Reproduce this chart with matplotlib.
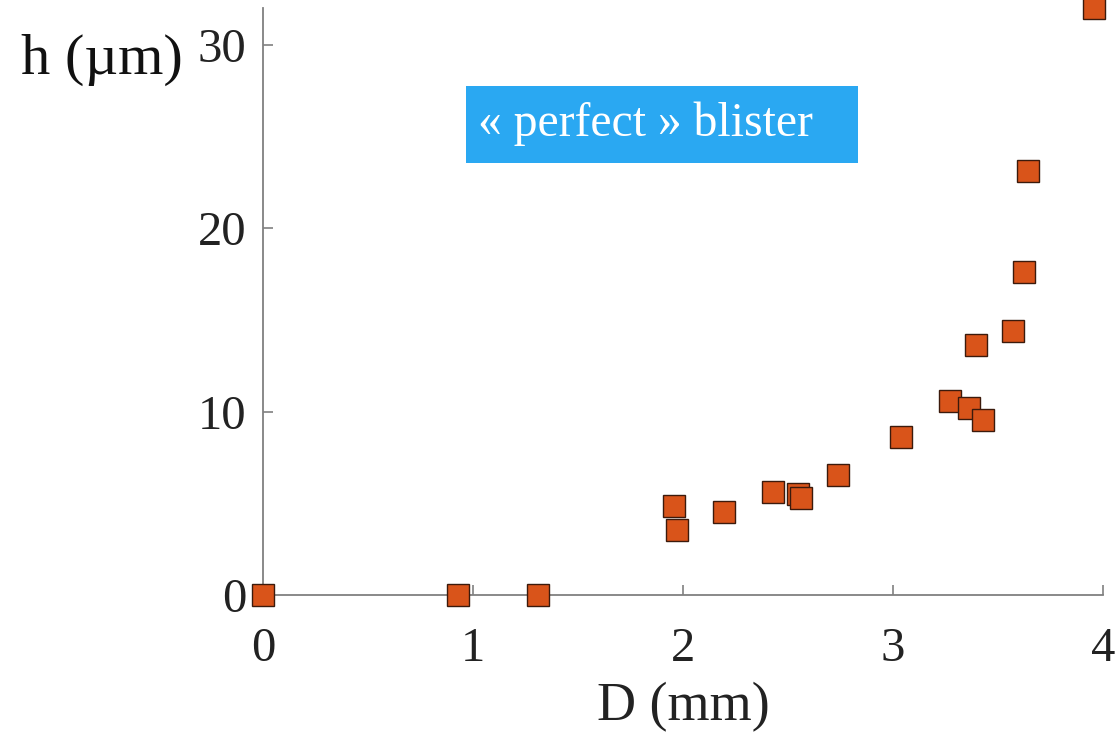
import matplotlib
matplotlib.use("Agg")
import matplotlib.pyplot as plt
from matplotlib.patches import Rectangle

# blister diameter D (mm) and height h (um)
D_mm = [0.0, 0.93, 1.31, 1.955, 1.97, 2.195, 2.43, 2.55, 2.56, 2.74,
        3.04, 3.27, 3.36, 3.43, 3.395, 3.57, 3.625, 3.645, 3.955]
h_um = [0.0, 0.0, 0.0, 4.85, 3.55, 4.5, 5.6, 5.5, 5.3, 6.55,
        8.6, 10.6, 10.2, 9.55, 13.65, 14.4, 17.6, 23.1, 32.0]

x_ticks = [0, 1, 2, 3, 4]
y_ticks = [0, 10, 20, 30]
box_label = "« perfect » blister"

plt.rcParams['font.family'] = ['Liberation Serif', 'DejaVu Serif']

fig = plt.figure(figsize=(11.19, 7.34), dpi=100)
ax = fig.add_axes([0.235, 0.1894, 0.7507, 0.7997])

ax.plot(D_mm, h_um, linestyle='none', marker='s', markersize=15.5,
        markerfacecolor='#D9541A', markeredgecolor='#3b1a0c',
        markeredgewidth=1.0, clip_on=False, zorder=3)

ax.set_xlim(0, 4)
ax.set_ylim(0, 32)
ax.set_xticks(x_ticks)
ax.set_yticks(y_ticks)

# only left/bottom axes, grey, inward ticks
for side in ['top', 'right']:
    ax.spines[side].set_visible(False)
for side in ['left', 'bottom']:
    ax.spines[side].set_color('#808080')
    ax.spines[side].set_linewidth(1.3)
ax.tick_params(axis='both', direction='in', length=7, width=1.2,
               color='#808080', labelsize=35, labelcolor='#222222')
ax.tick_params(axis='x', pad=23)
ax.tick_params(axis='y', pad=12)

ax.set_xlabel('D (mm)', fontsize=39, color='#222222')
ax.xaxis.set_label_coords(0.5, -0.148)
ax.set_ylabel('h (µm)', fontsize=42, color='#111111', rotation=0,
              ha='left', va='center')
ax.yaxis.set_label_coords(-0.288, 0.912)

# blue label box
ax.add_patch(Rectangle((0.2417, 0.736), 0.4667, 0.1317, transform=ax.transAxes,
                       facecolor='#2AA8F2', edgecolor='none', zorder=2))
ax.text(0.256, 0.8025, box_label, transform=ax.transAxes, fontsize=34.3,
        color='white', ha='left', va='center', zorder=3)

fig.savefig('out.png', dpi=100)
